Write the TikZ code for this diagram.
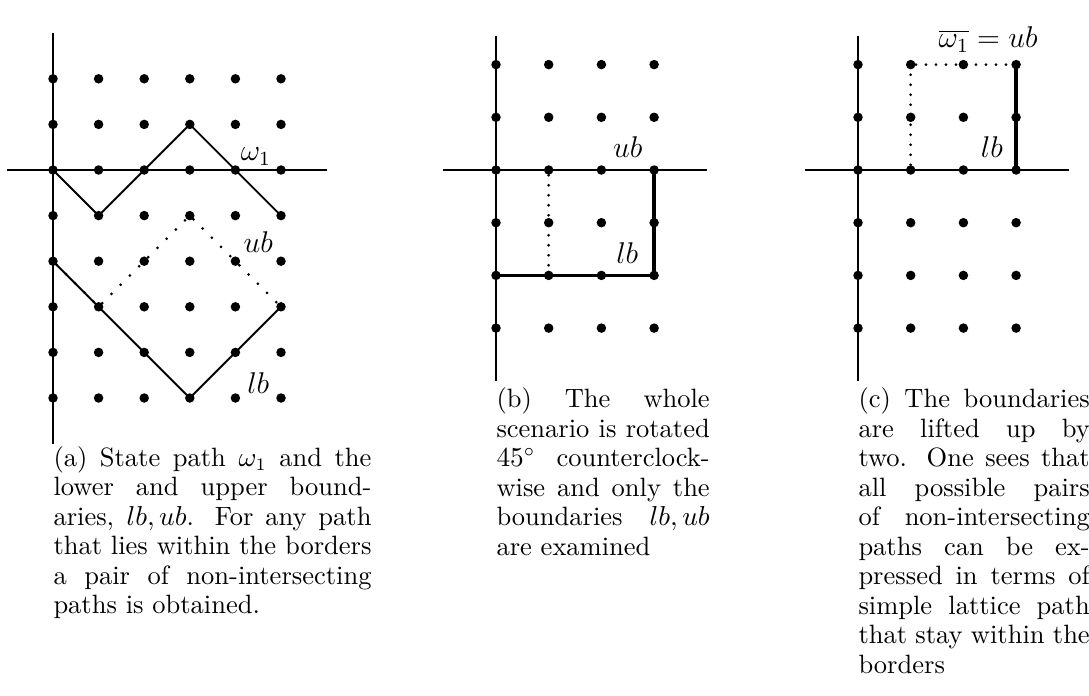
\documentclass[tikz,border=0pt]{standalone}
\hyphenation{scenario}
\tikzset{
  dot/.style={circle,fill,inner sep=0pt,minimum size=3.8pt},
  axis/.style={line width=1.05pt},
  walk/.style={line width=0.75pt},
  bound/.style={line width=1.45pt},
  dotline/.style={line width=1.2pt,line cap=round,dash pattern=on 0pt off 4pt},
  lab/.style={font=\large,inner sep=0pt},
  capt/.style={anchor=north west,inner sep=0pt,align=justify,
    font=\fontsize{10.6}{11.8}\selectfont}
}
\begin{document}
\begin{tikzpicture}
\useasboundingbox (0,0) rectangle (435.6pt,-278pt);
% (a) state path and the two boundaries
\begin{scope}[shift={(21.2pt,-68pt)},x=18.24pt,y=18.24pt]
  \draw[axis] (-1,0) -- (6,0);
  \draw[axis] (0,3) -- (0,-6);
  \foreach \x in {0,...,5}
    \foreach \y in {0,...,7}
      \node[dot] (a\x\y) at (\x,\y-5) {};
  \draw[walk] (a05.center) -- (a14.center) -- (a25.center) -- (a36.center) -- (a45.center) -- (a54.center);
  \draw[walk] (a03.center) -- (a12.center) -- (a30.center) -- (a52.center);
  \draw[dotline,dash pattern=on 0pt off 5.2pt] (a03) -- (a12) -- (a34) -- (a52);
  \node[lab] (w1) at (4.45,0.29) {$\omega_1$};
  \node[lab] (uba) at (4.5,-1.58) {$ub$};
  \node[lab] (lba) at (4.5,-4.67) {$lb$};
  \node[capt,text width=127.2pt] (capa) at (0,-6.05)
    {(a) State path $\omega_1$ and the lower and upper boundaries, $lb, ub$. For any path that lies within the borders a pair of non-intersecting paths is obtained.};
\end{scope}
% (b) rotated by 45 degrees
\begin{scope}[shift={(198.4pt,-68pt)},x=21.08pt,y=21.08pt]
  \draw[axis] (-1,0) -- (4,0);
  \draw[axis] (0,2.55) -- (0,-4);
  \foreach \x in {0,...,3}
    \foreach \y in {0,...,5}
      \node[dot] (b\x\y) at (\x,\y-3) {};
  \draw[bound] (b01.center) -- (b31.center) -- (b33.center);
  \draw[dotline] (b13) -- (b11);
  \node[lab] (ubb) at (2.5,0.44) {$ub$};
  \node[lab] (lbb) at (2.49,-1.57) {$lb$};
  \node[capt,text width=85.3pt] (capb) at (0,-4.12)
    {(b) The whole scenario is rotated $45^\circ$ counterclockwise and only the boundaries $lb, ub$ are examined};
\end{scope}
% (c) boundaries lifted by two
\begin{scope}[shift={(343.2pt,-68pt)},x=21.08pt,y=21.08pt]
  \draw[axis] (-1,0) -- (4,0);
  \draw[axis] (0,2.55) -- (0,-4);
  \foreach \x in {0,...,3}
    \foreach \y in {0,...,5}
      \node[dot] (c\x\y) at (\x,\y-3) {};
  \draw[bound] (c33.center) -- (c35.center);
  \draw[dotline] (c13) -- (c15) -- (c35);
  \node[lab] (ubc) at (2.47,2.47) {$\overline{\omega_1} = ub$};
  \node[lab] (lbc) at (2.54,0.44) {$lb$};
  \node[capt,text width=92.5pt] (capc) at (0,-4.12)
    {(c) The boundaries are lifted up by two. One sees that all possible pairs of non-intersecting paths can be expressed in terms of simple lattice path that stay within the borders};
\end{scope}
\end{tikzpicture}
\end{document}
